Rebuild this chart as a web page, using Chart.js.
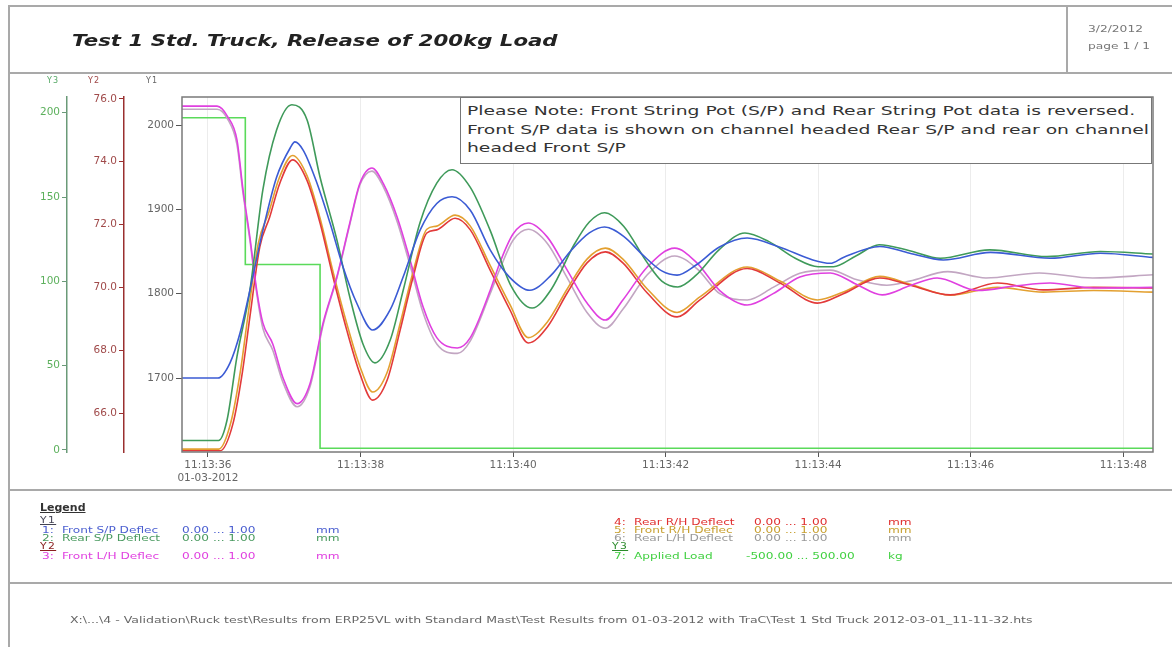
<!DOCTYPE html>
<html>
<head>
<meta charset="utf-8">
<title>Test 1 Std. Truck, Release of 200kg Load</title>
<script src="https://cdn.jsdelivr.net/npm/chart.js@4/dist/chart.umd.min.js"></script>
<style>
  body { margin: 0; background: #fff; }
  #page { position: relative; width: 1172px; height: 647px; overflow: hidden; background: #fff;
          font-family: "DejaVu Sans", Verdana, sans-serif; }
  #chart { position: absolute; left: 0; top: 0; }
  .ln { position: absolute; background: #a9a9a9; }
  .t { position: absolute; white-space: nowrap; line-height: 1; transform-origin: 0 0; }
  .wide { transform: scaleX(1.36); }
  .lg { position: absolute; white-space: nowrap; line-height: 1; font-size: 9px;
        transform-origin: 0 0; transform: scaleX(1.35); }
  .hd { text-decoration: underline; font-size: 8px; letter-spacing: 1px; }
  #note { position: absolute; left: 460px; top: 97px; width: 692px; height: 67px; box-sizing: border-box;
          border: 1.5px solid #777; background: #fff; }
  #note div { position: absolute; left: 6px; top: 4px; font-size: 13px; line-height: 18.5px; color: #333;
              white-space: nowrap; transform-origin: 0 0; transform: scaleX(1.44); }
</style>
</head>
<body>
<div id="page">
  <canvas id="chart" width="1172" height="647"></canvas>

  <!-- page frame -->
  <div class="ln" style="left:8px;top:5px;width:2px;height:642px;"></div>
  <div class="ln" style="left:8px;top:5px;width:1164px;height:2px;"></div>
  <div class="ln" style="left:8px;top:72px;width:1164px;height:2px;"></div>
  <div class="ln" style="left:1066px;top:5px;width:2px;height:68px;"></div>
  <div class="ln" style="left:8px;top:489px;width:1164px;height:2px;"></div>
  <div class="ln" style="left:8px;top:582px;width:1164px;height:2px;"></div>

  <!-- header -->
  <div class="t" style="left:72px;top:33px;font-size:16px;font-weight:bold;font-style:italic;color:#222;transform:scaleX(1.33);">Test 1 Std. Truck, Release of 200kg Load</div>
  <div class="t wide" style="left:1088px;top:25px;font-size:9px;color:#777;">3/2/2012</div>
  <div class="t wide" style="left:1088px;top:42px;font-size:9px;color:#777;">page 1 / 1</div>

  <!-- axis headings -->
  <div class="t" style="left:47px;top:77px;font-size:8px;letter-spacing:1px;color:#55a865;">Y3</div>
  <div class="t" style="left:88px;top:77px;font-size:8px;letter-spacing:1px;color:#a04848;">Y2</div>
  <div class="t" style="left:146px;top:77px;font-size:8px;letter-spacing:1px;color:#666;">Y1</div>

  <div id="note"><div>Please Note: Front String Pot (S/P) and Rear String Pot data is reversed.<br>Front S/P data is shown on channel headed Rear S/P and rear on channel<br>headed Front S/P</div></div>

  <!-- legend -->
  <div class="t" style="left:40px;top:502px;font-size:11px;font-weight:bold;text-decoration:underline;color:#333;">Legend</div>
  <div id="legend"></div>

  <!-- footer -->
  <div class="t" style="left:70px;top:615px;font-size:9.5px;color:#666;transform:scaleX(1.32);">X:\...\4 - Validation\Ruck test\Results from ERP25VL with Standard Mast\Test Results from 01-03-2012 with TraC\Test 1 Std Truck 2012-03-01_11-11-32.hts</div>
</div>

<script>
// Time axis: seconds after 11:13:36 on 01-03-2012
const xMin = -0.34;
const xMax = 12.39;
const xTickValues = [0, 2, 4, 6, 8, 10, 12];
const y1TickValues = [1700, 1800, 1900, 2000];
const y2TickValues = [66, 68, 70, 72, 74, 76];
const y3TickValues = [0, 50, 100, 150, 200];

// 1: Front S/P Deflec (Y1, mm)
const frontSpT = [-0.34, 0.13, 0.29, 0.42, 0.55, 0.72, 0.90, 1.08, 1.14, 1.25, 1.43, 1.60, 1.77, 1.95, 2.16, 2.39, 2.56, 2.78, 3.00, 3.20, 3.44, 3.70, 3.95, 4.22, 4.50, 4.75, 5.00, 5.20, 5.45, 5.70, 5.95, 6.15, 6.40, 6.70, 7.07, 7.50, 7.93, 8.16, 8.33, 8.81, 9.20, 9.64, 10.26, 11.04, 11.70, 12.39];
const frontSpV = [1700, 1700, 1718, 1753, 1804, 1875, 1938, 1973, 1980, 1970, 1931, 1884, 1832, 1789, 1757, 1781, 1820, 1875, 1907, 1915, 1899, 1852, 1820, 1804, 1822, 1850, 1872, 1879, 1868, 1846, 1827, 1822, 1834, 1855, 1866, 1855, 1840, 1836, 1843, 1856, 1848, 1840, 1849, 1842, 1848, 1843];

// 2: Rear S/P Deflect (Y1, mm)
const rearSpT = [-0.34, 0.14, 0.25, 0.38, 0.55, 0.72, 0.90, 1.10, 1.30, 1.47, 1.69, 1.86, 2.03, 2.19, 2.39, 2.56, 2.78, 3.00, 3.20, 3.44, 3.70, 3.97, 4.25, 4.50, 4.80, 5.00, 5.20, 5.45, 5.75, 5.95, 6.16, 6.40, 6.70, 7.04, 7.35, 7.70, 8.00, 8.20, 8.50, 8.80, 9.20, 9.60, 10.25, 11.00, 11.70, 12.39];
const rearSpV = [1626, 1626, 1650, 1725, 1804, 1923, 1994, 2024, 2006, 1938, 1864, 1796, 1741, 1718, 1745, 1804, 1884, 1931, 1947, 1926, 1875, 1810, 1783, 1805, 1858, 1885, 1896, 1880, 1838, 1815, 1808, 1822, 1852, 1872, 1862, 1842, 1832, 1832, 1845, 1858, 1851, 1842, 1852, 1844, 1850, 1847];

// 3: Front L/H Deflec (Y2, mm)
const frontLhT = [-0.34, 0.12, 0.26, 0.38, 0.46, 0.55, 0.64, 0.72, 0.85, 0.98, 1.17, 1.34, 1.51, 1.69, 1.86, 1.99, 2.15, 2.30, 2.48, 2.65, 2.82, 3.00, 3.27, 3.44, 3.70, 3.83, 4.00, 4.20, 4.45, 4.71, 4.97, 5.21, 5.44, 5.76, 6.12, 6.41, 6.71, 7.07, 7.41, 7.76, 8.16, 8.50, 8.84, 9.20, 9.56, 10.09, 10.60, 11.04, 11.61, 12.39];
const frontLhV = [75.77, 75.77, 75.43, 74.7, 73.1, 71.6, 69.9, 68.87, 68.2, 67.15, 66.3, 66.95, 68.87, 70.33, 72.05, 73.3, 73.8, 73.3, 72.24, 70.87, 69.38, 68.4, 68.07, 68.4, 69.9, 70.8, 71.7, 72.05, 71.6, 70.55, 69.5, 68.96, 69.6, 70.65, 71.25, 70.78, 69.9, 69.44, 69.8, 70.33, 70.46, 70.1, 69.76, 70.05, 70.3, 69.9, 70.05, 70.14, 69.98, 70.0];

// 4: Rear R/H Deflect (Y2, mm)
const rearRhT = [-0.34, 0.16, 0.33, 0.45, 0.55, 0.68, 0.81, 0.94, 1.11, 1.30, 1.47, 1.64, 1.82, 1.99, 2.16, 2.35, 2.52, 2.69, 2.87, 3.00, 3.24, 3.44, 3.70, 3.96, 4.20, 4.45, 4.71, 4.97, 5.21, 5.44, 5.76, 6.15, 6.45, 7.07, 7.50, 7.99, 8.33, 8.81, 9.21, 9.73, 10.35, 10.95, 11.61, 12.39];
const rearRhV = [64.8, 64.8, 65.68, 67.27, 69.06, 71.29, 72.24, 73.3, 74.06, 73.4, 72.05, 70.33, 68.64, 67.27, 66.41, 67.05, 68.64, 70.33, 71.73, 71.83, 72.2, 71.83, 70.55, 69.28, 68.23, 68.74, 69.82, 70.78, 71.13, 70.78, 69.82, 69.06, 69.6, 70.6, 70.14, 69.5, 69.8, 70.3, 70.07, 69.76, 70.14, 69.92, 70.0, 69.98];

// 5: Front R/H Deflec (Y2, mm)
const frontRhT = [-0.34, 0.14, 0.30, 0.43, 0.53, 0.66, 0.80, 0.93, 1.11, 1.30, 1.47, 1.64, 1.82, 1.99, 2.16, 2.35, 2.52, 2.69, 2.87, 3.00, 3.24, 3.44, 3.70, 3.96, 4.20, 4.45, 4.71, 4.97, 5.21, 5.44, 5.76, 6.15, 6.45, 7.07, 7.50, 7.99, 8.33, 8.81, 9.21, 9.73, 10.35, 10.95, 11.61, 12.39];
const frontRhV = [64.85, 64.85, 65.7, 67.4, 69.2, 71.4, 72.4, 73.45, 74.2, 73.55, 72.2, 70.5, 68.85, 67.5, 66.67, 67.3, 68.85, 70.5, 71.85, 71.95, 72.3, 71.95, 70.7, 69.45, 68.4, 68.9, 69.95, 70.9, 71.25, 70.9, 69.95, 69.2, 69.7, 70.65, 70.2, 69.6, 69.85, 70.35, 70.1, 69.75, 70.0, 69.85, 69.9, 69.85];

// 6: Rear L/H Deflect (Y2, mm)
const rearLhT = [-0.34, 0.12, 0.26, 0.38, 0.46, 0.55, 0.64, 0.72, 0.85, 0.98, 1.17, 1.34, 1.51, 1.69, 1.86, 1.99, 2.15, 2.30, 2.48, 2.65, 2.82, 3.00, 3.27, 3.44, 3.70, 3.83, 4.00, 4.20, 4.45, 4.71, 4.97, 5.21, 5.44, 5.76, 6.12, 6.41, 6.71, 7.07, 7.41, 7.76, 8.16, 8.50, 8.90, 9.20, 9.70, 10.20, 10.90, 11.60, 12.39];
const rearLhV = [75.67, 75.67, 75.35, 74.55, 73.0, 71.5, 69.8, 68.7, 68.0, 67.0, 66.2, 66.85, 68.8, 70.3, 72.0, 73.25, 73.7, 73.2, 72.1, 70.7, 69.2, 68.2, 67.9, 68.3, 69.8, 70.6, 71.5, 71.85, 71.4, 70.3, 69.2, 68.7, 69.3, 70.4, 71.0, 70.6, 69.8, 69.6, 70.0, 70.45, 70.55, 70.25, 70.07, 70.2, 70.5, 70.3, 70.46, 70.3, 70.4];

// 7: Applied Load (Y3, kg) - held level until the next change
const loadT = [-0.34, 0.49, 1.47, 12.39];
const loadV = [197, 110, 1, 1];

function pts(ts, vs) { return ts.map((t, i) => ({ x: t, y: vs[i] })); }

const series = [
  { name: 'Front S/P Deflec', t: frontSpT, v: frontSpV, axis: 'y1', color: '#3b5bd4' },
  { name: 'Rear S/P Deflect', t: rearSpT, v: rearSpV, axis: 'y1', color: '#3f9a5a' },
  { name: 'Front L/H Deflec', t: frontLhT, v: frontLhV, axis: 'y2', color: '#e040e0' },
  { name: 'Rear R/H Deflect', t: rearRhT, v: rearRhV, axis: 'y2', color: '#e23a3a' },
  { name: 'Front R/H Deflec', t: frontRhT, v: frontRhV, axis: 'y2', color: '#e3a030' },
  { name: 'Rear L/H Deflect', t: rearLhT, v: rearLhV, axis: 'y2', color: '#c2a6c2' },
  { name: 'Applied Load', t: loadT, v: loadV, axis: 'y3', color: '#5ada5a', stepped: 'before' }
];

// legend block: group headings and one row per channel
const legendRows = [
  { head: 'Y1', color: '#445', x: 40, y: 517 },
  { n: '1:', name: 'Front S/P Deflec', range: '0.00 ... 1.00', unit: 'mm', color: '#4a5ed0', x: 40, y: 526 },
  { n: '2:', name: 'Rear S/P Deflect', range: '0.00 ... 1.00', unit: 'mm', color: '#4a9a60', x: 40, y: 534 },
  { head: 'Y2', color: '#8a2020', x: 40, y: 543 },
  { n: '3:', name: 'Front L/H Deflec', range: '0.00 ... 1.00', unit: 'mm', color: '#e040e0', x: 40, y: 552 },
  { n: '4:', name: 'Rear R/H Deflect', range: '0.00 ... 1.00', unit: 'mm', color: '#e03030', x: 612, y: 518 },
  { n: '5:', name: 'Front R/H Deflec', range: '0.00 ... 1.00', unit: 'mm', color: '#c8a030', x: 612, y: 526 },
  { n: '6:', name: 'Rear L/H Deflect', range: '0.00 ... 1.00', unit: 'mm', color: '#999', x: 612, y: 534 },
  { head: 'Y3', color: '#2a8a2a', x: 612, y: 543 },
  { n: '7:', name: 'Applied Load', range: '-500.00 ... 500.00', unit: 'kg', color: '#40d040', x: 612, y: 552 }
];

const lg = document.getElementById('legend');
legendRows.forEach(r => {
  if (r.head) {
    lg.insertAdjacentHTML('beforeend', `<div class="lg hd" style="left:${r.x}px;top:${r.y}px;color:${r.color}">${r.head}</div>`);
    return;
  }
  const rx = r.range.startsWith('-') ? r.x + 134 : r.x + 142;
  lg.insertAdjacentHTML('beforeend',
    `<div class="lg" style="left:${r.x + 2}px;top:${r.y}px;color:${r.color}">${r.n}</div>` +
    `<div class="lg" style="left:${r.x + 22}px;top:${r.y}px;color:${r.color}">${r.name}</div>` +
    `<div class="lg" style="left:${rx}px;top:${r.y}px;color:${r.color}">${r.range}</div>` +
    `<div class="lg" style="left:${r.x + 276}px;top:${r.y}px;color:${r.color}">${r.unit}</div>`);
});

function fixedTicks(values) {
  return scale => { scale.ticks = values.map(v => ({ value: v })); };
}
function fixedWidth(w) { return scale => { scale.width = w; }; }

const timeLabel = v => {
  const s = 36 + v;
  const lab = '11:13:' + String(s).padStart(2, '0');
  return v === 0 ? [lab, '01-03-2012'] : lab;
};

// frame round the plot area
const plotFrame = {
  id: 'plotFrame',
  afterDraw(chart) {
    const a = chart.chartArea, c = chart.ctx;
    c.save();
    c.strokeStyle = '#7a7a7a';
    c.lineWidth = 1.5;
    c.strokeRect(a.left, a.top, a.right - a.left, a.bottom - a.top);
    c.restore();
  }
};

const tickFont = { family: 'DejaVu Sans', size: 10.5 };

new Chart(document.getElementById('chart'), {
  type: 'line',
  data: {
    datasets: series.map(s => ({
      label: s.name,
      data: pts(s.t, s.v),
      yAxisID: s.axis,
      borderColor: s.color,
      backgroundColor: s.color,
      borderWidth: 1.6,
      pointRadius: 0,
      fill: false,
      stepped: s.stepped || false,
      cubicInterpolationMode: s.stepped ? 'default' : 'monotone'
    }))
  },
  options: {
    responsive: false,
    animation: false,
    devicePixelRatio: 1,
    layout: { padding: { left: 20, right: 19, top: 97, bottom: 155 } },
    plugins: { legend: { display: false }, tooltip: { enabled: false } },
    scales: {
      x: {
        type: 'linear', position: 'bottom', min: xMin, max: xMax,
        afterBuildTicks: fixedTicks(xTickValues),
        afterFit: scale => { scale.height = 40; },
        ticks: { callback: timeLabel, font: tickFont, color: '#666', maxRotation: 0, padding: 2 },
        grid: { color: '#ececec', tickColor: '#555', tickLength: 5, lineWidth: 1 },
        border: { display: false }
      },
      y1: {
        type: 'linear', position: 'left', weight: 1, min: 1612.3, max: 2033.2,
        afterBuildTicks: fixedTicks(y1TickValues),
        afterFit: fixedWidth(58),
        ticks: { font: tickFont, color: '#666', padding: 2, callback: v => String(v) },
        grid: { drawOnChartArea: false, tickColor: '#555', tickLength: 6 },
        border: { display: false }
      },
      y2: {
        type: 'linear', position: 'left', weight: 2, min: 64.76, max: 76.06,
        afterBuildTicks: fixedTicks(y2TickValues),
        afterFit: fixedWidth(57),
        ticks: { font: tickFont, color: '#a04a4a', padding: 2, callback: v => v.toFixed(1) },
        grid: { drawOnChartArea: false, tickColor: '#9a3030', tickLength: 5 },
        border: { display: true, color: '#9a3030', width: 1.5 }
      },
      y3: {
        type: 'linear', position: 'left', weight: 3, min: -1.2, max: 209.3,
        afterBuildTicks: fixedTicks(y3TickValues),
        afterFit: fixedWidth(47),
        ticks: { font: tickFont, color: '#5cb05c', padding: 2, callback: v => String(v) },
        grid: { drawOnChartArea: false, tickColor: '#6a9a78', tickLength: 5 },
        border: { display: true, color: '#6a9a78', width: 1.5 }
      }
    }
  },
  plugins: [plotFrame]
});
</script>
</body>
</html>
